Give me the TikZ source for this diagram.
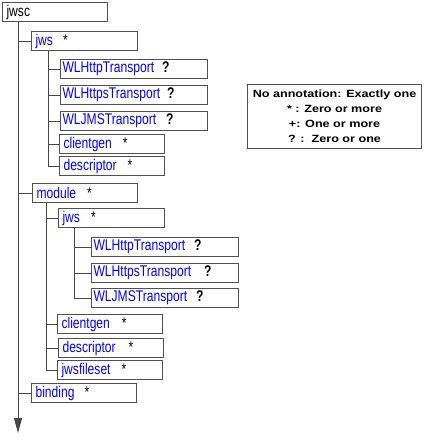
\documentclass[tikz,border=0pt]{standalone}
\usepackage{fontspec}
\setmainfont{Liberation Sans}
\newfontfamily\narrowsans[FakeStretch=0.78]{Liberation Sans}
\newfontfamily\widesans[FakeStretch=1.2]{Liberation Sans}
\usetikzlibrary{arrows.meta}

\definecolor{boxgray}{RGB}{80,80,80}
\definecolor{linegray}{RGB}{70,70,70}
\definecolor{elemblue}{RGB}{0,0,255}

% gap, then the occurrence sign in black
\newcommand{\card}[2]{\hspace{#1}\textcolor{black}{#2}}

\tikzset{
  elem/.style={draw=boxgray, line width=1.1pt, anchor=north west, rectangle,
    minimum height=19pt, inner xsep=4pt, inner ysep=0pt, text width=#1,
    align=left, text=elemblue, font=\narrowsans\fontsize{15.5}{17}\selectfont},
  wlelem/.style={elem=#1, inner xsep=2pt},
  tree/.style={draw=linegray, line width=1pt},
}

\begin{document}
\begin{tikzpicture}[x=1pt, y=-1pt]
    \useasboundingbox (0,0) rectangle (447,448);
    % element tree
    \node[elem=97pt, text=black] (jwsc) at (2,2) {jwsc};

    \node[elem=98pt] (jws) at (31,31) {jws\card{10pt}{*}};
    \node[wlelem=143pt] (wlhttp) at (60,59) {WLHttpTransport\card{8pt}{\textbf{?}}};
    \node[wlelem=143pt] (wlhttps) at (60,85) {WLHttpsTransport\card{7pt}{\textbf{?}}};
    \node[wlelem=143pt] (wljms) at (60,111) {WLJMSTransport\card{10pt}{\textbf{?}}};
    \node[elem=97pt] (clientgen) at (59,134) {clientgen\card{11pt}{*}};
    \node[elem=97pt] (descriptor) at (59,156) {descriptor\card{11pt}{*}};

    \node[elem=97pt] (module) at (32,183) {module\card{11pt}{*}};
    \node[elem=98pt] (mjws) at (58,208) {jws\card{11pt}{*}};
    \node[wlelem=143pt] (mwlhttp) at (91,237) {WLHttpTransport\card{9pt}{\textbf{?}}};
    \node[wlelem=143pt] (mwlhttps) at (91,263) {WLHttpsTransport\card{13pt}{\textbf{?}}};
    \node[wlelem=143pt] (mwljms) at (91,288) {WLJMSTransport\card{9pt}{\textbf{?}}};
    \node[elem=97pt] (mclientgen) at (57,314) {clientgen\card{12pt}{*}};
    \node[elem=97pt] (mdescriptor) at (58,338) {descriptor\card{13pt}{*}};
    \node[elem=97pt] (jwsfileset) at (57,360) {jwsfileset\card{11pt}{*}};

    \node[elem=97pt] (binding) at (31,383) {binding\card{10pt}{*}};

    % legend
    \node[draw=boxgray, line width=1.1pt, anchor=north west, minimum width=174pt,
      minimum height=64pt, align=center,
      font=\widesans\bfseries\fontsize{10.5}{15}\selectfont] (legend) at (247,84)
      {No annotation: Exactly one\\* : Zero or more\\+: One or more\\? :\ \ Zero or one};

    % trunk lines
    \coordinate (t0) at ([xshift=16pt]jwsc.south west);
    \coordinate (end) at (18,433);
    \coordinate (t1) at ([xshift=17pt]jws.south west);
    \coordinate (t2) at ([xshift=14pt]module.south west);
    \coordinate (t3) at ([xshift=16pt]mjws.south west);

    \draw[tree, -{Triangle[width=8pt,length=15pt]}] (t0) -- (end);
    \draw[tree] (t0 |- jws.west) -- (jws.west);
    \draw[tree] (t0 |- module.west) -- (module.west);
    \draw[tree] (t0 |- binding.west) -- (binding.west);

    \draw[tree] (t1) |- (descriptor.west);
    \draw[tree] (t1 |- wlhttp.west) -- (wlhttp.west);
    \draw[tree] (t1 |- wlhttps.west) -- (wlhttps.west);
    \draw[tree] (t1 |- wljms.west) -- (wljms.west);
    \draw[tree] (t1 |- clientgen.west) -- (clientgen.west);

    \draw[tree] (t2) |- (jwsfileset.west);
    \draw[tree] (t2 |- mjws.west) -- (mjws.west);
    \draw[tree] (t2 |- mclientgen.west) -- (mclientgen.west);
    \draw[tree] (t2 |- mdescriptor.west) -- (mdescriptor.west);

    \draw[tree] (t3) |- (mwljms.west);
    \draw[tree] (t3 |- mwlhttp.west) -- (mwlhttp.west);
    \draw[tree] (t3 |- mwlhttps.west) -- (mwlhttps.west);
\end{tikzpicture}
\end{document}
